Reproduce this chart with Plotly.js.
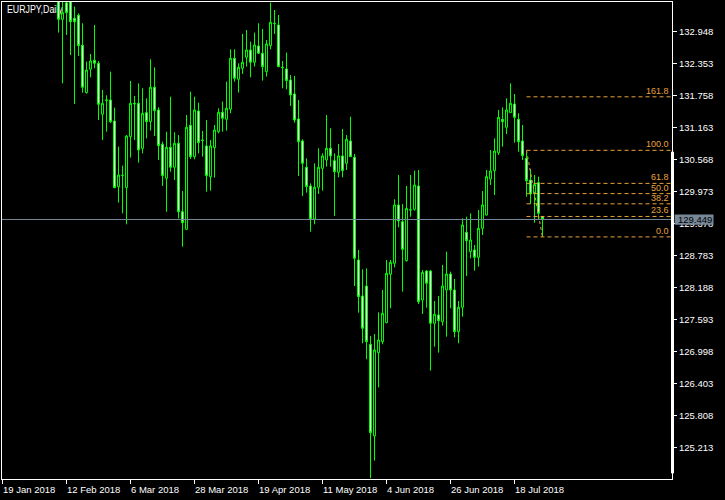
<!DOCTYPE html>
<html><head><meta charset="utf-8">
<script src="https://cdn.plot.ly/plotly-3.0.1.min.js"></script>
<style>
html,body{margin:0;padding:0;background:#000;}
#wrap{position:relative;width:725px;height:500px;}
#title{position:absolute;left:7px;top:3px;z-index:0;color:#fff;font:11px 'Liberation Sans',Arial,sans-serif;
  transform:scaleX(0.8);transform-origin:0 0;white-space:nowrap;line-height:13px;}
#chart{position:absolute;left:0;top:0;width:725px;height:500px;z-index:1;}
</style>
</head><body><div id="wrap"><div id="title"></div><div id="chart"></div></div>
<script>
const symbolTitle = "EURJPY,Daily";
const firstBar = 14;
const opens = [
133.65,133.171,133.48,133.50,133.190,133.246,132.688,131.808,132.242,132.409,
132.353,131.405,131.671,131.671,131.280,130.060,130.264,130.041,130.989,131.609,
131.609,130.772,131.436,131.268,131.907,131.485,130.847,130.214,130.791,130.419,
130.865,129.594,129.266,131.200,130.617,131.467,130.927,130.816,130.245,130.785,
131.082,131.442,131.312,131.498,132.446,132.056,132.260,132.465,132.601,132.372,
132.676,132.539,132.198,132.682,133.090,133.066,132.279,132.248,132.043,131.783,
131.318,130.909,130.419,130.072,129.458,130.047,130.400,130.555,130.772,130.543,
130.326,130.630,130.493,130.909,130.605,128.696,128.026,128.212,127.128,125.423,
126.973,127.177,127.530,128.429,128.634,129.718,129.408,128.683,129.630,129.638,
130.072,127.952,128.491,128.491,127.518,127.673,127.549,128.138,128.435,128.138,
127.363,127.815,129.210,128.851,128.882,128.745,129.284,129.532,130.202,130.357,
130.691,131.311,131.162,131.435,131.596,131.311,130.908,130.586,130.183,129.930,
130.134,129.500];
const highs = [
133.90,133.60,133.70,133.65,133.407,133.283,133.097,132.384,132.527,133.066,
132.397,131.857,131.758,132.198,131.529,130.803,130.450,131.020,132.025,131.746,
131.980,131.888,131.702,132.428,132.279,131.535,130.896,131.082,131.733,131.070,
131.020,129.979,131.392,131.826,131.733,131.622,131.095,131.299,130.927,131.206,
131.516,131.640,132.012,132.614,132.614,132.353,132.899,132.973,132.756,132.924,
133.097,132.992,132.787,133.481,133.345,133.252,132.397,132.552,132.136,132.118,
131.671,130.940,130.586,130.121,130.493,130.772,130.679,131.392,131.144,130.679,
130.853,131.132,131.020,131.361,130.667,128.882,128.522,128.541,127.283,127.320,
127.723,128.138,128.696,128.696,129.824,130.276,129.737,130.072,130.276,130.357,
130.369,128.510,128.510,128.510,127.933,128.026,128.603,128.851,128.479,128.342,
127.933,129.470,129.501,129.563,128.975,129.625,129.979,130.369,130.741,130.958,
131.485,131.534,131.702,131.980,131.782,131.423,131.206,130.691,130.381,130.276,
130.245,129.514];
const lows = [
132.924,131.980,132.880,132.508,131.597,132.490,131.808,131.790,132.093,132.260,
131.299,130.927,131.082,131.240,130.030,129.762,129.563,129.359,130.600,130.927,
130.506,130.679,130.958,131.101,131.002,130.555,130.072,129.594,130.338,130.183,
129.470,128.943,129.253,130.574,130.568,130.679,130.617,129.966,129.985,130.227,
131.051,131.082,131.101,131.423,132.012,131.808,132.155,132.291,132.093,132.291,
132.527,132.031,132.105,132.614,132.899,132.280,131.888,131.870,131.560,131.250,
130.258,129.886,129.948,129.222,129.359,129.923,129.985,130.431,130.431,129.514,
130.233,130.233,130.369,130.617,128.212,127.716,127.146,126.849,124.640,124.964,
126.328,127.128,127.520,127.797,128.559,129.303,128.107,128.665,129.501,129.613,
127.877,127.692,127.809,126.638,127.084,126.973,127.475,127.270,127.797,127.258,
127.146,127.642,128.398,128.727,128.497,128.571,129.160,129.520,130.090,129.904,
130.648,130.803,131.038,131.435,130.877,130.710,130.555,129.873,129.737,129.390,
129.440,129.125];
const closes = [
133.171,133.295,133.295,133.128,133.128,132.682,131.907,132.229,132.397,132.353,
131.591,131.609,131.665,131.268,130.041,130.276,130.270,131.000,131.609,131.600,
130.741,131.423,131.268,131.907,131.473,130.822,130.264,130.791,130.419,130.865,
129.594,129.390,131.163,130.617,131.485,130.878,130.920,130.264,130.816,131.113,
131.442,131.330,131.516,132.446,132.074,132.279,132.372,132.601,132.372,132.694,
132.539,132.291,132.713,133.116,133.095,132.291,132.275,132.031,131.764,131.299,
130.896,130.493,130.060,129.458,130.047,130.419,130.630,130.772,130.630,130.338,
130.630,130.357,130.940,130.617,128.727,128.014,127.425,127.177,125.485,127.022,
127.208,127.704,128.448,128.652,129.718,129.421,128.894,129.656,129.625,130.090,
127.921,128.466,128.262,127.518,127.685,127.568,128.212,128.435,128.138,127.363,
127.815,129.346,129.055,129.067,128.745,129.284,129.718,130.245,130.350,130.722,
131.348,131.268,131.485,131.609,131.348,130.896,130.636,130.171,129.923,130.100,
129.563,129.449];
const dateTickBars = [0,16,32,48,64,80,96,112,128];
const dateTickLabels = ["19 Jan 2018","12 Feb 2018","6 Mar 2018","28 Mar 2018","19 Apr 2018","11 May 2018","4 Jun 2018","26 Jun 2018","18 Jul 2018"];
const priceTicks = [132.948,132.353,131.758,131.163,130.568,129.973,129.378,128.783,128.188,127.593,126.998,126.403,125.808,125.213];
const priceTickLabels = ["132.948","132.353","131.758","131.163","130.568","129.973","129.378","128.783","128.188","127.593","126.998","126.403","125.808","125.213"];
const bidPrice = 129.449;
const bidLabel = "129.449";
const fibBarHigh = 131, fibBarLow = 135;
const fibHigh = 130.735, fibLow = 129.125;
const fibLevels = [0, 23.6, 38.2, 50, 61.8, 100, 161.8];
const fibLabels = ["0.0","23.6","38.2","50.0","61.8","100.0","161.8"];

const FONT = "'Liberation Sans',Arial,sans-serif";
const LIME = '#00FF00';
const FIBC = '#E9A23B';
const SLATE = '#778899';
const xRange = [-0.125, 167.375];
const yRange = [124.623, 133.493];

document.getElementById('title').textContent = symbolTitle;

const bars = opens.map((_, k) => firstBar + k);

const trace = {
  type: 'candlestick',
  x: bars, open: opens, high: highs, low: lows, close: closes,
  increasing: {line: {color: LIME, width: 1}, fillcolor: '#000000'},
  decreasing: {line: {color: LIME, width: 1}, fillcolor: '#FFFFFF'},
  whiskerwidth: 0,
  hoverinfo: 'skip'
};

const shapes = [];
const annotations = [];

// bid line
shapes.push({type:'line', layer:'above', xref:'paper', yref:'y', x0:0, x1:1,
  y0:bidPrice, y1:bidPrice, line:{color:SLATE, width:1}});

// fibo levels
fibLevels.forEach((lv, k) => {
  const p = fibLow + lv / 100 * (fibHigh - fibLow);
  shapes.push({type:'line', layer:'above', xref:'x', yref:'y',
    x0:fibBarHigh, x1:xRange[1], y0:p, y1:p,
    line:{color:FIBC, width:1, dash:'4px,3px'}});
  annotations.push({xref:'paper', yref:'y', x:1, y:p, xanchor:'right', yanchor:'bottom',
    xshift:-2, yshift:0, text:fibLabels[k], showarrow:false, borderpad:0,
    font:{family:FONT, size:9, color:FIBC}});
});
// fibo trend line
shapes.push({type:'line', layer:'above', xref:'x', yref:'y',
  x0:fibBarHigh, y0:fibHigh, x1:fibBarLow, y1:fibLow,
  line:{color:FIBC, width:1, dash:'3px,3px'}});

// thick scale marker on the right border
shapes.push({type:'rect', layer:'above', xref:'paper', yref:'paper',
  xsizemode:'pixel', xanchor:1, x0:-1, x1:2, y0:0.012, y1:0.686,
  fillcolor:'#FFFFFF', line:{width:0}});

// bid price box
shapes.push({type:'rect', layer:'above', xref:'paper', yref:'y',
  xsizemode:'pixel', xanchor:1, x0:2.7, x1:41.5,
  ysizemode:'pixel', yanchor:bidPrice, y0:-5.3, y1:5,
  fillcolor:SLATE, line:{width:0}});
annotations.push({xref:'paper', yref:'y', x:1, y:bidPrice, xanchor:'left', yanchor:'middle',
  xshift:4.5, text:bidLabel, showarrow:false, borderpad:0,
  font:{family:FONT, size:9.5, color:'#000000'}});

// date labels, left-aligned at their tick marks
dateTickBars.forEach((b, k) => {
  annotations.push({xref:'x', yref:'paper', x:b, y:0, xanchor:'left', yanchor:'top',
    xshift:-0.5, yshift:-4, text:dateTickLabels[k], showarrow:false, borderpad:0,
    font:{family:FONT, size:9.5, color:'#FFFFFF'}});
});

const layout = {
  width: 725, height: 500,
  margin: {l:2, r:53, t:2, b:21, pad:0},
  paper_bgcolor:'rgba(0,0,0,0)', plot_bgcolor:'rgba(0,0,0,0)',
  showlegend:false,
  xaxis: {range:xRange, showgrid:false, zeroline:false, showline:true, mirror:true,
    linecolor:'#FFFFFF', linewidth:1, ticks:'outside', ticklen:4, tickcolor:'#FFFFFF', tickwidth:1,
    tickmode:'array', tickvals:dateTickBars, showticklabels:false,
    rangeslider:{visible:false}, fixedrange:true},
  yaxis: {side:'right', range:yRange, showgrid:false, zeroline:false, showline:true, mirror:true,
    linecolor:'#FFFFFF', linewidth:1, ticks:'outside', ticklen:4, tickcolor:'#FFFFFF', tickwidth:1,
    tickmode:'array', tickvals:priceTicks, ticktext:priceTickLabels,
    tickfont:{family:FONT, size:9.5, color:'#FFFFFF'}, fixedrange:true},
  shapes: shapes,
  annotations: annotations
};

Plotly.newPlot('chart', [trace], layout, {displayModeBar:false, staticPlot:true});
</script>
</body></html>
